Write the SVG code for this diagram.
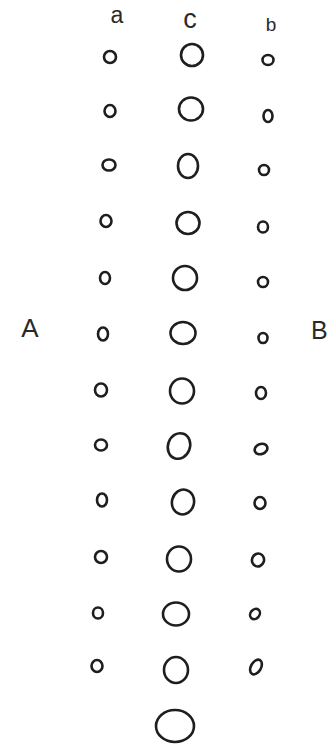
<svg xmlns="http://www.w3.org/2000/svg" width="331" height="747" viewBox="0 0 331 747">
<style>
.s{fill:none;stroke:#1e1e1e;stroke-width:2.6}
.t{font-family:"Liberation Sans",Arial,sans-serif;fill:#2a2a2a}
</style>
<rect width="331" height="747" fill="#ffffff"/>
<g id="labels">
<text class="t" x="117" y="23" font-size="23" text-anchor="middle">a</text>
<text class="t" x="190" y="28" font-size="27" text-anchor="middle" fill="#555">c</text>
<text class="t" x="271" y="31" font-size="19" text-anchor="middle">b</text>
<text class="t" x="30" y="337" font-size="26" text-anchor="middle">A</text>
<text class="t" x="311" y="339" font-size="25">B</text>
</g>
<g id="col-a">
<ellipse class="s" cx="110" cy="57" rx="6" ry="6"/>
<ellipse class="s" cx="110" cy="111" rx="5.5" ry="6"/>
<ellipse class="s" cx="109" cy="165" rx="6.5" ry="5.5"/>
<ellipse class="s" cx="106" cy="221" rx="5.5" ry="6"/>
<ellipse class="s" cx="105" cy="278" rx="5" ry="6"/>
<ellipse class="s" cx="103" cy="334" rx="5" ry="6.5"/>
<ellipse class="s" cx="101" cy="390" rx="6" ry="6.5"/>
<ellipse class="s" cx="101" cy="445" rx="6" ry="5.5"/>
<ellipse class="s" cx="102" cy="500" rx="5" ry="6.5"/>
<ellipse class="s" cx="101" cy="557" rx="6" ry="6"/>
<ellipse class="s" cx="98" cy="613" rx="5" ry="5.5"/>
<ellipse class="s" cx="97" cy="666" rx="5.5" ry="6"/>
</g>
<g id="col-c">
<ellipse class="s" cx="192" cy="55" rx="11" ry="11"/>
<ellipse class="s" cx="191" cy="109" rx="12" ry="11.5"/>
<ellipse class="s" cx="188" cy="166" rx="10" ry="12"/>
<ellipse class="s" cx="188" cy="223" rx="11.5" ry="11"/>
<ellipse class="s" cx="185" cy="278" rx="12" ry="12"/>
<ellipse class="s" cx="183" cy="333" rx="12.5" ry="11"/>
<ellipse class="s" cx="182" cy="391" rx="12" ry="12.5"/>
<ellipse class="s" cx="179" cy="446" rx="11" ry="13" transform="rotate(20 179 446)"/>
<ellipse class="s" cx="183" cy="502" rx="11" ry="12.5" transform="rotate(15 183 502)"/>
<ellipse class="s" cx="179" cy="559" rx="12" ry="12.5"/>
<ellipse class="s" cx="176" cy="614" rx="13" ry="11.5"/>
<ellipse class="s" cx="176" cy="670" rx="12" ry="13"/>
<ellipse class="s" cx="175" cy="726" rx="19" ry="16"/>
</g>
<g id="col-b">
<ellipse class="s" cx="268" cy="60" rx="5.5" ry="5"/>
<ellipse class="s" cx="268" cy="116" rx="4.5" ry="6"/>
<ellipse class="s" cx="264" cy="170" rx="5" ry="5"/>
<ellipse class="s" cx="263" cy="227" rx="5" ry="5.5"/>
<ellipse class="s" cx="263" cy="282" rx="5" ry="5"/>
<ellipse class="s" cx="263" cy="338" rx="4.5" ry="5"/>
<ellipse class="s" cx="261" cy="393" rx="5" ry="6"/>
<ellipse class="s" cx="261" cy="449" rx="6.5" ry="5" transform="rotate(-20 261 449)"/>
<ellipse class="s" cx="260" cy="503" rx="5.5" ry="6"/>
<ellipse class="s" cx="258" cy="560" rx="6" ry="6.5" transform="rotate(20 258 560)"/>
<ellipse class="s" cx="255" cy="614" rx="4.5" ry="5.5" transform="rotate(40 255 614)"/>
<ellipse class="s" cx="256" cy="667" rx="5" ry="8" transform="rotate(30 256 667)"/>
</g>
</svg>
